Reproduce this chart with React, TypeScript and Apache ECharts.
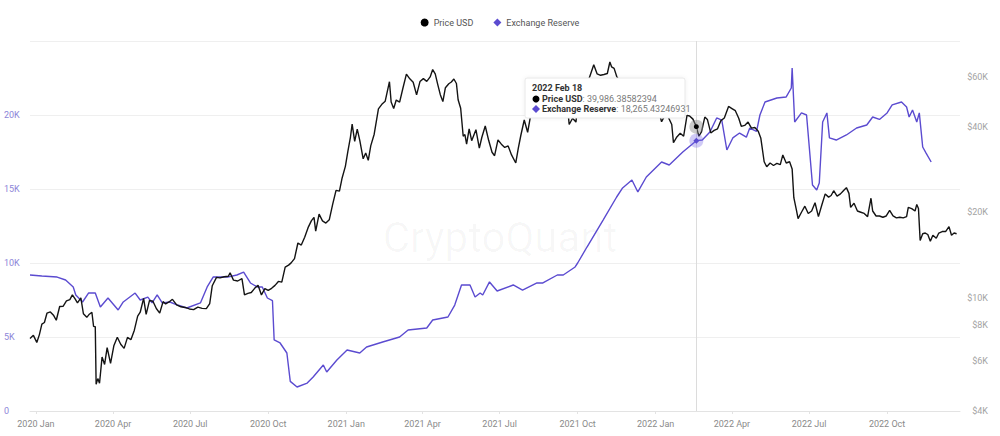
import React, { useEffect, useRef } from 'react';
import * as echarts from 'echarts';

const priceDates = [
  '2019-12-25','2019-12-29','2020-01-02','2020-01-05','2020-01-08','2020-01-11','2020-01-14','2020-01-18','2020-01-22','2020-01-25','2020-01-29',
  '2020-02-02','2020-02-06','2020-02-10','2020-02-13','2020-02-16','2020-02-19','2020-02-23','2020-02-26','2020-03-01','2020-03-04','2020-03-07',
  '2020-03-09','2020-03-11','2020-03-12','2020-03-14','2020-03-16','2020-03-19','2020-03-22','2020-03-25','2020-03-29','2020-04-02','2020-04-06',
  '2020-04-10','2020-04-14','2020-04-18','2020-04-22','2020-04-26','2020-04-30','2020-05-03','2020-05-07','2020-05-10','2020-05-14','2020-05-18',
  '2020-05-22','2020-05-26','2020-05-30','2020-06-02','2020-06-06','2020-06-10','2020-06-15','2020-06-20','2020-06-25','2020-06-30','2020-07-05',
  '2020-07-10','2020-07-15','2020-07-20','2020-07-24','2020-07-27','2020-08-01','2020-08-05','2020-08-10','2020-08-15','2020-08-17','2020-08-21',
  '2020-08-26','2020-08-31','2020-09-03','2020-09-07','2020-09-11','2020-09-15','2020-09-19','2020-09-23','2020-09-27','2020-10-01','2020-10-05',
  '2020-10-09','2020-10-13','2020-10-17','2020-10-21','2020-10-25','2020-10-28','2020-11-01','2020-11-05','2020-11-09','2020-11-13','2020-11-17',
  '2020-11-21','2020-11-24','2020-11-26','2020-11-30','2020-12-04','2020-12-08','2020-12-12','2020-12-16','2020-12-20','2020-12-24','2020-12-27',
  '2020-12-31','2021-01-03','2021-01-06','2021-01-08','2021-01-11','2021-01-14','2021-01-17','2021-01-21','2021-01-24','2021-01-27','2021-01-30',
  '2021-02-03','2021-02-08','2021-02-12','2021-02-16','2021-02-21','2021-02-23','2021-02-26','2021-03-01','2021-03-05','2021-03-09','2021-03-13',
  '2021-03-17','2021-03-21','2021-03-25','2021-03-29','2021-04-02','2021-04-06','2021-04-10','2021-04-13','2021-04-16','2021-04-19','2021-04-22',
  '2021-04-25','2021-04-28','2021-05-02','2021-05-05','2021-05-08','2021-05-11','2021-05-13','2021-05-16','2021-05-19','2021-05-21','2021-05-23',
  '2021-05-26','2021-05-29','2021-06-03','2021-06-07','2021-06-10','2021-06-14','2021-06-18','2021-06-22','2021-06-25','2021-06-29','2021-07-03',
  '2021-07-07','2021-07-11','2021-07-15','2021-07-20','2021-07-23','2021-07-26','2021-07-30','2021-08-03','2021-08-07','2021-08-11','2021-08-14',
  '2021-08-18','2021-08-22','2021-08-26','2021-08-30','2021-09-03','2021-09-06','2021-09-07','2021-09-11','2021-09-15','2021-09-19','2021-09-21',
  '2021-09-25','2021-09-29','2021-10-01','2021-10-05','2021-10-09','2021-10-13','2021-10-16','2021-10-20','2021-10-24','2021-10-28','2021-11-01',
  '2021-11-05','2021-11-08','2021-11-10','2021-11-13','2021-11-16','2021-11-19','2021-11-22','2021-11-26','2021-11-29','2021-12-02','2021-12-04',
  '2021-12-08','2021-12-12','2021-12-15','2021-12-19','2021-12-23','2021-12-27','2021-12-31','2022-01-04','2022-01-08','2022-01-12','2022-01-16',
  '2022-01-20','2022-01-22','2022-01-26','2022-01-30','2022-02-03','2022-02-07','2022-02-10','2022-02-14','2022-02-18','2022-02-21','2022-02-24',
  '2022-02-28','2022-03-03','2022-03-07','2022-03-11','2022-03-15','2022-03-19','2022-03-23','2022-03-28','2022-04-01','2022-04-05','2022-04-09',
  '2022-04-12','2022-04-16','2022-04-20','2022-04-24','2022-04-28','2022-05-02','2022-05-05','2022-05-09','2022-05-12','2022-05-16','2022-05-20',
  '2022-05-24','2022-05-28','2022-05-31','2022-06-04','2022-06-08','2022-06-11','2022-06-13','2022-06-16','2022-06-18','2022-06-22','2022-06-26',
  '2022-06-30','2022-07-04','2022-07-08','2022-07-12','2022-07-16','2022-07-20','2022-07-24','2022-07-27','2022-07-30','2022-08-03','2022-08-07',
  '2022-08-11','2022-08-14','2022-08-17','2022-08-19','2022-08-23','2022-08-27','2022-08-31','2022-09-04','2022-09-08','2022-09-12','2022-09-14',
  '2022-09-18','2022-09-22','2022-09-26','2022-09-30','2022-10-04','2022-10-08','2022-10-12','2022-10-16','2022-10-20','2022-10-24','2022-10-26',
  '2022-10-30','2022-11-03','2022-11-05','2022-11-07','2022-11-09','2022-11-12','2022-11-15','2022-11-18','2022-11-21','2022-11-24','2022-11-28',
  '2022-12-01','2022-12-05','2022-12-09','2022-12-13','2022-12-16','2022-12-19','2022-12-22'
];

const priceValues = [
  7190,7380,6970,7410,8080,8190,8830,8920,8660,8340,9320,
  9340,9760,9860,10240,9930,9600,9990,8790,8540,8760,8900,
  7940,7910,4970,5200,5010,6190,5830,6680,5880,6800,7270,
  6870,6640,7260,7120,7680,8620,8900,9950,8750,9790,9730,
  9170,8840,9700,9520,9670,9880,9450,9300,9250,9140,9090,
  9270,9180,9160,9550,11030,11800,11750,11860,11910,12250,11540,
  11460,11680,10240,10370,10440,10800,11080,10240,10780,10620,10800,
  11060,11420,11360,12820,13030,13270,13740,15590,15330,16320,17650,
  18680,19170,17150,19700,18650,18320,18810,21310,23870,23730,26270,
  28990,32780,36770,40800,35500,39190,35790,30830,32290,30430,34280,
  37620,46200,47900,49130,57540,48820,46300,49600,48780,54800,61200,
  58900,57300,51700,57600,59000,57700,59800,63500,61300,56200,51800,
  49000,54800,56600,57400,58800,56700,49700,46400,37000,37500,34700,
  39300,35700,39000,33600,36700,40200,35800,32500,31600,35900,34700,
  33800,34200,31800,29800,33600,37300,42200,38200,44600,45600,47100,
  44800,49300,46900,47100,50000,51800,46800,45200,48200,47300,40700,
  42800,41500,48200,51500,54900,57400,60900,66000,61300,60600,61000,
  61500,67500,64900,64100,60100,58100,56300,53600,57800,56500,49300,
  50600,50100,48900,46700,51000,50700,46300,46000,41600,43900,43100,
  40700,35100,36800,37900,37000,43800,43600,42500,39986.38582394,37000,38300,
  43200,42400,38000,38800,39300,42000,42900,47100,46300,45500,42800,
  40100,40400,41500,39500,39700,38500,36500,30100,28900,29800,29200,
  29700,29400,31800,29800,30100,28400,22500,20400,19000,20000,21000,
  19800,20200,21600,19300,21200,23200,22600,22900,23800,22800,23200,
  23900,24400,23300,20800,21500,20200,20000,19800,19300,22400,20200,
  19400,19400,19200,19400,20300,19400,19100,19200,19100,19300,20800,
  20600,20200,21300,20600,15900,16800,16900,16700,15800,16600,16200,
  16900,17100,17100,17800,16600,16900,16800
];

const reserveDates = [
  '2019-12-25','2020-01-08','2020-01-26','2020-02-05','2020-02-14','2020-02-17','2020-02-25','2020-03-03','2020-03-11','2020-03-17','2020-03-26',
  '2020-04-07','2020-04-13','2020-04-27','2020-05-03','2020-05-12','2020-05-17','2020-05-23','2020-05-29','2020-06-07','2020-06-16','2020-06-27',
  '2020-07-13','2020-07-21','2020-07-28','2020-08-14','2020-08-25','2020-09-02','2020-09-10','2020-09-18','2020-09-24','2020-09-30','2020-10-06',
  '2020-10-08','2020-10-15','2020-10-23','2020-10-27','2020-11-04','2020-11-16','2020-11-23','2020-12-05','2020-12-09','2020-12-21','2021-01-02',
  '2021-01-17','2021-01-25','2021-02-13','2021-03-05','2021-03-15','2021-04-06','2021-04-13','2021-05-01','2021-05-09','2021-05-17','2021-05-27',
  '2021-06-02','2021-06-08','2021-06-11','2021-06-19','2021-06-28','2021-07-17','2021-07-28','2021-08-14','2021-08-21','2021-09-07','2021-09-14',
  '2021-09-28','2021-10-01','2021-10-12','2021-10-31','2021-11-16','2021-11-23','2021-12-04','2021-12-11','2021-12-21','2022-01-08','2022-01-17',
  '2022-02-02','2022-02-18','2022-02-25','2022-03-06','2022-03-14','2022-03-20','2022-03-26','2022-04-02','2022-04-10','2022-04-18','2022-04-22',
  '2022-04-30','2022-05-04','2022-05-10','2022-05-24','2022-06-04','2022-06-10','2022-06-11','2022-06-14','2022-06-22','2022-06-28','2022-07-02',
  '2022-07-05','2022-07-10','2022-07-13','2022-07-17','2022-07-22','2022-07-25','2022-08-02','2022-08-14','2022-08-26','2022-09-07','2022-09-14',
  '2022-09-22','2022-10-01','2022-10-07','2022-10-18','2022-10-24','2022-10-27','2022-10-31','2022-11-05','2022-11-08','2022-11-12','2022-11-16',
  '2022-11-22'
];

const reserveValues = [
  9190,9120,9050,8850,8380,7840,7365,7970,7970,7030,7635,
  6825,7365,7970,7500,7700,7300,7840,7300,7365,7160,6960,
  7300,8380,9050,9050,9190,9390,8650,8380,8380,7635,7450,
  4800,4595,3920,2000,1620,1890,2300,3110,2635,3450,4120,
  3920,4325,4660,5000,5470,5610,6150,6350,7160,8515,8515,
  7700,7970,7840,8720,8110,8515,8175,8650,8650,9190,9190,
  9730,10000,11080,12900,14460,15070,15610,14800,15810,16825,16620,
  17500,18265.43246931,18310,18850,19800,19660,17635,18450,18780,18500,19120,
  18900,20000,20880,21150,21220,21825,23180,19530,20140,20000,17300,
  15270,14930,15400,19530,20140,18450,18310,18650,19120,19325,19865,
  19700,20140,20680,20880,20540,19865,20340,19530,20140,17840,17430,
  16825
];

const leftTicks = [0, 5000, 10000, 15000, 20000];
const rightTicks = [4000, 6000, 8000, 10000, 20000, 40000, 60000];
const quarterTicks = [
  '2020-01-01','2020-04-01','2020-07-01','2020-10-01',
  '2021-01-01','2021-04-01','2021-07-01','2021-10-01',
  '2022-01-01','2022-04-01','2022-07-01','2022-10-01'
];
const tooltipDate = '2022-02-18';
const MONTHS = ['Jan','Feb','Mar','Apr','May','Jun','Jul','Aug','Sep','Oct','Nov','Dec'];

const PRICE_COLOR = '#141414';
const RESERVE_COLOR = '#5b4bd0';
const FONT = 'Roboto, "Noto Sans", sans-serif';

function toTs(s: string) {
  const [y, m, d] = s.split('-').map(Number);
  return new Date(y, m - 1, d).getTime();
}

function fmtNum(v: number) {
  return v.toLocaleString('en-US', { maximumFractionDigits: 8 });
}

export default function App() {
  const ref = useRef<HTMLDivElement>(null);

  useEffect(() => {
    if (!ref.current) return;
    const chart = echarts.init(ref.current, null, { renderer: 'svg' });

    const priceData = priceDates.map((d, i) => [toTs(d), priceValues[i]]);
    const reserveData = reserveDates.map((d, i) => [toTs(d), reserveValues[i]]);
    const tipTs = toTs(tooltipDate);
    const tipPrice = priceValues[priceDates.indexOf(tooltipDate)];
    const tipReserve = reserveValues[reserveDates.indexOf(tooltipDate)];
    const tipDateObj = new Date(tipTs);
    const tipTitle = `${tipDateObj.getFullYear()} ${MONTHS[tipDateObj.getMonth()]} ${tipDateObj.getDate()}`;

    const TZ = 1000;
    const richStyles = {
      b: { fontSize: 9, fontWeight: 'bold', fill: '#333', fontFamily: FONT },
      v: { fontSize: 9, fill: '#7a7a7a', fontFamily: FONT }
    };

    const option: any = {
      animation: false,
      backgroundColor: '#ffffff',
      textStyle: { fontFamily: FONT },
      legend: {
        top: 13,
        left: 'center',
        itemWidth: 8,
        itemHeight: 8,
        itemGap: 20,
        textStyle: { fontSize: 9, color: '#555', fontFamily: FONT },
        data: [
          { name: 'Price USD', icon: 'circle', itemStyle: { color: '#000' } },
          { name: 'Exchange Reserve', icon: 'diamond', itemStyle: { color: RESERVE_COLOR } }
        ]
      },
      grid: { left: 30, right: 40, top: 41, bottom: 25 },
      xAxis: {
        type: 'value',
        min: toTs('2019-12-25'),
        max: toTs('2022-12-26'),
        axisLine: { show: true, lineStyle: { color: '#e3e3e3' } },
        axisTick: { show: true, length: 3, lineStyle: { color: '#e3e3e3' }, customValues: quarterTicks.map(toTs) },
        splitLine: { show: false },
        axisLabel: {
          customValues: quarterTicks.map(toTs),
          fontSize: 9,
          color: '#8a8a8a',
          margin: 8,
          fontFamily: FONT,
          formatter: (v: number) => {
            const d = new Date(v);
            return `${d.getFullYear()} ${MONTHS[d.getMonth()]}`;
          }
        }
      },
      yAxis: [
        {
          type: 'value',
          position: 'left',
          min: 0,
          max: 25000,
          interval: 5000,
          axisLine: { show: false },
          axisTick: { show: false },
          splitLine: { show: true, lineStyle: { color: '#efefef', width: 1 } },
          axisLabel: {
            customValues: leftTicks,
            align: 'left',
            margin: 26,
            fontSize: 9,
            color: '#8d85d8',
            fontFamily: FONT,
            formatter: (v: number) => (v === 0 ? '0' : `${v / 1000}K`)
          }
        },
        {
          type: 'log',
          position: 'right',
          logBase: 10,
          min: 4000,
          max: 80000,
          axisLine: { show: false },
          axisTick: { show: false },
          splitLine: { show: false },
          axisLabel: {
            customValues: rightTicks,
            align: 'right',
            margin: 28,
            fontSize: 9,
            color: '#a3a3a3',
            fontFamily: FONT,
            formatter: (v: number) => `$${Math.round(v / 1000)}K`
          }
        }
      ],
      series: [
        {
          name: 'Exchange Reserve',
          type: 'line',
          yAxisIndex: 0,
          data: reserveData,
          showSymbol: false,
          symbol: 'diamond',
          lineStyle: { color: RESERVE_COLOR, width: 1.4 },
          itemStyle: { color: RESERVE_COLOR },
          z: 2,
          markPoint: {
            silent: true,
            label: { show: false },
            data: [
              { coord: [tipTs, tipReserve], symbol: 'circle', symbolSize: 14, itemStyle: { color: 'rgba(120,105,230,0.35)' } },
              { coord: [tipTs, tipReserve], symbol: 'diamond', symbolSize: 6, itemStyle: { color: RESERVE_COLOR } }
            ]
          }
        },
        {
          name: 'Price USD',
          type: 'line',
          yAxisIndex: 1,
          data: priceData,
          showSymbol: false,
          lineStyle: { color: PRICE_COLOR, width: 1.4 },
          itemStyle: { color: '#000' },
          z: 3,
          markLine: {
            silent: true,
            symbol: ['none', 'none'],
            label: { show: false },
            lineStyle: { color: '#dcdcdc', width: 1, type: 'solid' },
            data: [{ xAxis: tipTs }]
          },
          markPoint: {
            silent: true,
            label: { show: false },
            data: [
              { coord: [tipTs, tipPrice], symbol: 'circle', symbolSize: 14, itemStyle: { color: 'rgba(140,140,140,0.45)' } },
              { coord: [tipTs, tipPrice], symbol: 'circle', symbolSize: 5, itemStyle: { color: '#000' } }
            ]
          }
        }
      ],
      graphic: {
        elements: [
          {
            type: 'text',
            left: 'center',
            top: 216,
            z: 0,
            silent: true,
            style: {
              text: 'CryptoQuant',
              font: `42px ${FONT}`,
              fill: 'rgba(0,0,0,0.03)'
            }
          },
          {
            type: 'rect',
            x: 525,
            y: 78,
            z: TZ,
            shape: { x: 0, y: 0, width: 160, height: 40, r: 2 },
            style: { fill: '#ffffff', stroke: '#e8e8e8', lineWidth: 1, shadowBlur: 4, shadowColor: 'rgba(0,0,0,0.06)' }
          },
          {
            type: 'text',
            x: 532,
            y: 83,
            z: TZ + 1,
            style: { text: tipTitle, font: `bold 9px ${FONT}`, fill: '#333' }
          },
          {
            type: 'circle',
            z: TZ + 1,
            shape: { cx: 536, cy: 99, r: 3.5 },
            style: { fill: '#000' }
          },
          {
            type: 'text',
            x: 542,
            y: 94,
            z: TZ + 1,
            style: { text: `{b|Price USD}{v|: ${fmtNum(tipPrice)}}`, rich: richStyles }
          },
          {
            type: 'polygon',
            z: TZ + 1,
            shape: { points: [[536, 105], [540, 109], [536, 113], [532, 109]] },
            style: { fill: RESERVE_COLOR }
          },
          {
            type: 'text',
            x: 542,
            y: 104,
            z: TZ + 1,
            style: { text: `{b|Exchange Reserve}{v|: ${fmtNum(tipReserve)}}`, rich: richStyles }
          }
        ]
      }
    };

    chart.setOption(option);
    return () => chart.dispose();
  }, []);

  return <div ref={ref} style={{ position: 'fixed', left: 0, top: 0, width: 1000, height: 436 }} />;
}
